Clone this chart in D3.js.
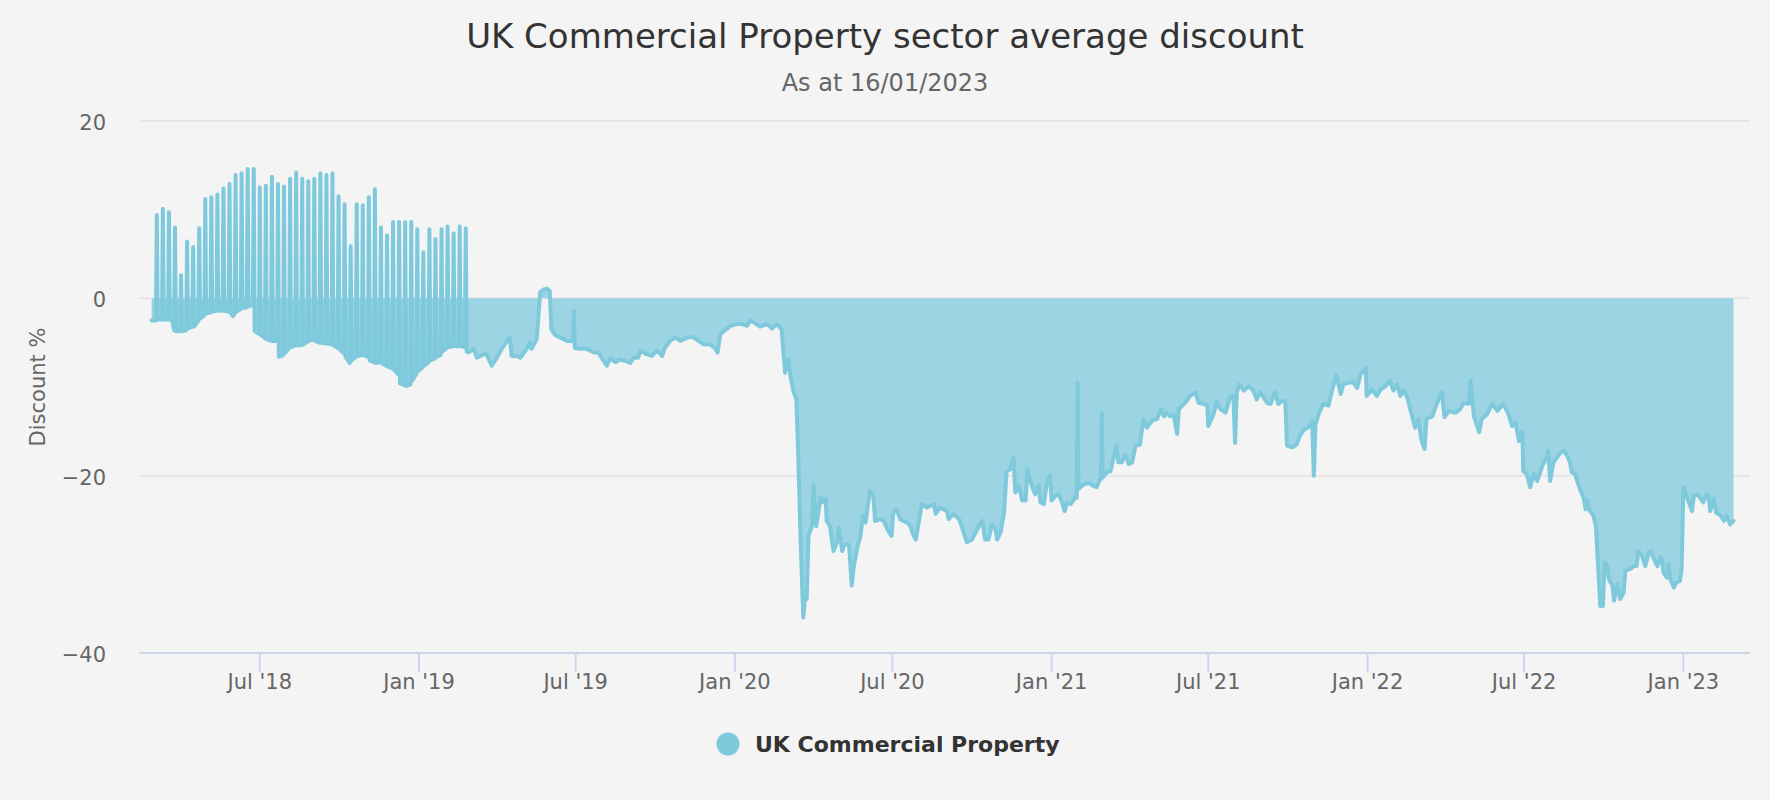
<!DOCTYPE html>
<html>
<head>
<meta charset="utf-8">
<script src="https://cdn.jsdelivr.net/npm/d3@7"></script>
<style>
  html, body { margin: 0; padding: 0; background: #f4f4f4; }
  svg { display: block; }
  text { font-family: "DejaVu Sans", sans-serif; }
</style>
</head>
<body>
<svg id="chart" width="1770" height="800"></svg>
<script>
// ---------------- DATA ----------------
const chartTitle = "UK Commercial Property sector average discount";
const chartSubtitle = "As at 16/01/2023";
const seriesName = "UK Commercial Property";
const yAxisTitle = "Discount %";
const yTicks = [-40, -20, 0, 20];
const xTickDates = ["2018-07-01", "2019-01-01", "2019-07-01", "2020-01-01", "2020-07-01",
                    "2021-01-01", "2021-07-01", "2022-01-01", "2022-07-01", "2023-01-01"];
const xTickLabels = ["Jul '18", "Jan '19", "Jul '19", "Jan '20", "Jul '20",
                     "Jan '21", "Jul '21", "Jan '22", "Jul '22", "Jan '23"];
const xDomain = ["2018-02-11T10:00:00", "2023-03-19T00:00:00"];
const baseDate = "2018-02-26"; // day 0 of the series; points are [day offset, discount %]

// Mar 2018 - Feb 2019: daily discount with weekly (weekend) premium readings
const period2018 = [
[0,-2.5],
[5,-2.5],[6,9.4],[7,-2.4],
[12,-2.4],[13,10.1],[14,-2.4],
[19,-2.4],[20,9.7],[21,-2.3],
[24,-2.6],[26,-3.6],[27,8.0],[28,-3.7],
[33,-3.7],[34,2.6],[35,-3.7],
[40,-3.6],[41,6.4],[42,-3.4],
[47,-3.2],[48,5.8],[49,-3.2],
[54,-2.5],[55,7.9],[56,-2.3],
[61,-1.9],[62,11.2],[63,-1.7],
[68,-1.6],[69,11.4],[70,-1.5],
[75,-1.4],[76,11.7],[77,-1.4],
[82,-1.4],[83,12.4],[84,-1.4],
[89,-1.5],[90,12.9],[91,-1.6],
[94,-2.0],[96,-1.7],[97,13.9],[98,-1.5],
[103,-1.2],[104,14.1],[105,-1.1],
[110,-1.0],[111,14.6],[112,-0.9],
[117,-0.7],[118,14.6],[119,-3.7],
[124,-4.0],[125,12.5],[126,-4.1],
[131,-4.5],[132,12.7],[133,-4.6],
[138,-4.8],[139,13.7],[140,-4.8],
[145,-4.8],[146,12.9],[147,-6.6],
[152,-6.4],[153,12.6],[154,-6.2],
[159,-5.6],[160,13.5],[161,-5.5],
[166,-5.3],[167,14.2],[168,-5.3],
[173,-5.3],[174,13.5],[175,-5.2],
[180,-4.9],[181,13.2],[182,-4.8],
[187,-4.6],[188,13.5],[189,-4.8],
[194,-5.0],[195,14.1],[196,-5.0],
[201,-5.1],[202,13.9],[203,-5.1],
[208,-5.2],[209,14.1],[210,-5.3],
[215,-5.6],[216,11.5],[217,-5.7],
[222,-6.2],[223,10.6],[224,-6.6],
[229,-7.3],[230,5.9],[231,-7.0],
[236,-6.6],[237,10.6],[238,-6.5],
[243,-6.4],[244,10.5],[245,-6.4],
[250,-6.6],[251,11.4],[252,-7.0],
[257,-7.2],[258,12.3],[259,-7.3],
[264,-7.2],[265,8.0],[266,-7.3],
[271,-7.6],[272,7.1],[273,-7.7],
[278,-7.9],[279,8.6],[280,-8.0],
[285,-8.6],[286,8.6],[287,-9.6],
[292,-9.8],[293,8.6],[294,-9.9],
[299,-9.7],[300,8.6],[301,-9.3],
[306,-8.5],[307,7.8],[308,-8.2],
[313,-7.8],[314,5.2],[315,-7.6],
[320,-7.2],[321,7.8],[322,-7.0],
[327,-6.8],[328,6.7],[329,-6.6],
[334,-6.4],[335,7.8],[336,-6.0],
[341,-5.6],[342,8.1],[343,-5.5],
[348,-5.4],[349,7.3],[350,-5.4],
[355,-5.4],[356,8.1],[357,-5.4],
[362,-5.5],[363,7.9],[364,-6.0]
];

// Mar 2019 - Dec 2020
const period2019_20 = [
[366,-6.1],[372,-5.7],[376,-6.7],[384,-6.3],[387,-6.3],[393,-7.6],[399,-6.7],[405,-5.6],
[414,-4.4],[416,-6.5],[422,-6.5],[426,-6.7],[434,-5.6],[437,-5.0],[439,-5.7],[445,-4.6],
[449,0.7],[453,1.0],[457,1.1],[460,0.8],[462,-3.5],[466,-4.1],[472,-4.4],[480,-4.8],
[487,-4.8],[488,-1.4],[489,-5.6],[495,-5.7],[503,-5.7],[511,-6.1],[516,-6.1],[520,-6.7],
[526,-7.6],[530,-6.8],[536,-7.2],[541,-6.9],[549,-7.1],[553,-7.3],[557,-6.7],[562,-6.7],
[565,-5.9],[572,-6.3],[578,-6.5],[584,-5.9],[590,-6.5],[593,-5.6],[599,-4.8],[605,-4.4],
[611,-4.8],[619,-4.4],[626,-4.4],[632,-4.8],[638,-5.2],[645,-5.2],[651,-5.6],[654,-6.1],
[657,-4.1],[661,-3.7],[669,-3.1],[676,-2.9],[682,-2.9],[688,-3.1],[692,-2.5],[697,-2.8],
[703,-3.2],[711,-2.9],[717,-3.4],[723,-2.9],[728,-3.5],[732,-8.4],[736,-6.9],[738,-8.7],
[742,-10.6],[745,-11.4],[747,-17.0],[750,-27.5],[753,-36.0],[755,-33.9],[757,-33.9],[759,-26.8],
[763,-25.7],[765,-21.1],[768,-25.7],[773,-22.5],[775,-23.0],[779,-22.6],[780,-25.1],[784,-25.7],
[786,-27.2],[788,-28.5],[792,-27.5],[794,-25.8],[798,-28.5],[800,-27.9],[804,-27.7],[806,-27.9],
[809,-32.4],[811,-30.5],[815,-28.3],[819,-26.8],[822,-24.5],[825,-25.3],[830,-21.7],[834,-22.3],
[836,-25.1],[842,-24.9],[846,-25.1],[850,-26.0],[855,-26.8],[857,-24.2],[861,-23.8],[865,-24.9],
[873,-25.3],[877,-25.7],[879,-26.4],[883,-27.2],[886,-25.5],[890,-23.2],[896,-23.6],[904,-23.2],
[906,-24.3],[911,-23.6],[919,-24.0],[921,-24.9],[927,-24.3],[933,-24.9],[936,-25.7],[942,-27.5],
[948,-27.2],[950,-26.8],[956,-25.7],[960,-25.1],[963,-27.2],[967,-27.2],[971,-25.5],[975,-26.0],
[977,-27.2],[981,-26.4],[985,-24.2],[988,-19.5],[992,-19.3],[996,-18.0],[998,-21.9],[1002,-21.1],
[1006,-22.8],[1010,-22.8],[1012,-19.3],[1017,-21.1],[1021,-22.1],[1025,-21.1],[1027,-23.0],[1031,-23.2],
[1034,-21.1],[1038,-20.0]
];

// Jan 2021 - Dec 2021
const period2021 = [
[1040,-22.8],[1044,-22.3],[1048,-22.1],[1052,-23.0],[1055,-24.0],[1058,-23.0],[1062,-23.2],[1067,-22.5],
[1069,-22.5],[1070,-9.5],[1071,-21.5],[1077,-21.0],[1083,-20.8],[1087,-21.1],[1092,-21.3],[1096,-20.4],
[1097,-20.4],[1098,-13.0],[1099,-20.2],[1104,-19.6],[1108,-19.5],[1112,-17.8],[1115,-16.6],[1117,-18.5],
[1121,-18.5],[1125,-17.6],[1129,-18.7],[1133,-18.5],[1137,-16.6],[1142,-16.5],[1146,-13.6],[1150,-14.6],
[1156,-13.8],[1162,-13.6],[1166,-12.5],[1170,-13.3],[1173,-12.9],[1177,-13.3],[1181,-13.1],[1185,-15.3],
[1187,-12.5],[1193,-11.9],[1196,-11.6],[1200,-11.0],[1206,-10.6],[1210,-11.8],[1216,-11.9],[1220,-12.1],
[1221,-14.4],[1227,-13.1],[1231,-11.6],[1235,-12.5],[1241,-12.9],[1246,-11.2],[1250,-11.0],[1252,-16.3],
[1254,-10.6],[1257,-9.7],[1262,-10.4],[1268,-9.9],[1273,-10.4],[1277,-11.4],[1281,-10.6],[1289,-11.8],
[1293,-11.9],[1298,-10.6],[1302,-11.9],[1306,-11.6],[1310,-11.6],[1312,-16.6],[1318,-16.8],[1323,-16.5],
[1327,-15.5],[1331,-14.9],[1337,-14.5],[1341,-13.8],[1343,-20.0],[1345,-14.2],[1349,-12.9],[1354,-11.9],
[1360,-12.1],[1364,-10.4],[1369,-8.7],[1372,-9.9],[1374,-10.8],[1377,-9.7],[1383,-9.5],[1389,-9.5],
[1393,-10.1],[1397,-8.6],[1403,-7.8]
];

// Jan 2022 - Feb 2023
const period2022_23 = [
[1404,-11.0],[1410,-10.3],[1416,-11.0],[1420,-10.3],[1426,-9.9],[1431,-9.3],[1435,-10.4],[1439,-9.7],
[1443,-11.0],[1447,-10.4],[1451,-11.2],[1456,-13.1],[1460,-14.6],[1464,-13.6],[1467,-15.9],[1471,-17.0],
[1473,-13.6],[1480,-13.3],[1485,-11.9],[1491,-10.6],[1494,-13.4],[1499,-12.7],[1507,-12.9],[1512,-12.5],
[1516,-11.8],[1522,-11.9],[1524,-9.3],[1528,-13.3],[1534,-15.1],[1537,-13.6],[1543,-13.1],[1549,-11.9],
[1555,-12.7],[1562,-11.9],[1568,-13.1],[1572,-14.4],[1576,-14.0],[1580,-16.1],[1584,-15.0],[1585,-19.5],
[1589,-19.8],[1593,-21.3],[1597,-19.8],[1601,-20.6],[1607,-18.9],[1612,-18.0],[1614,-17.2],[1616,-20.6],
[1620,-18.5],[1628,-17.4],[1632,-17.2],[1636,-17.8],[1639,-18.5],[1641,-19.6],[1645,-19.8],[1649,-21.1],
[1655,-22.6],[1657,-23.8],[1659,-22.8],[1662,-24.0],[1666,-24.5],[1669,-25.7],[1671,-29.4],[1674,-34.7],
[1677,-34.7],[1679,-29.8],[1682,-30.2],[1684,-31.7],[1688,-32.4],[1690,-34.1],[1694,-32.2],[1697,-33.9],
[1701,-33.2],[1703,-30.7],[1709,-30.5],[1713,-30.2],[1716,-30.2],[1718,-28.5],[1722,-29.0],[1726,-30.2],
[1730,-28.7],[1732,-28.5],[1736,-29.4],[1740,-30.2],[1743,-29.2],[1745,-29.4],[1747,-30.9],[1751,-31.5],
[1753,-30.0],[1755,-31.7],[1759,-32.6],[1762,-32.0],[1766,-31.9],[1768,-30.5],[1770,-21.3],[1772,-21.9],
[1775,-22.6],[1780,-24.0],[1782,-22.3],[1786,-22.1],[1790,-22.6],[1793,-23.0],[1797,-22.1],[1799,-22.3],
[1801,-24.0],[1805,-22.6],[1808,-24.2],[1813,-24.5],[1817,-25.1],[1820,-24.5],[1824,-25.5],[1828,-25.1]
];

// ---------------- CHART ----------------
const W = 1770, H = 800;
const plot = { left: 139, right: 1750, top: 121, bottom: 653 };
const seriesColor = "#7fc9dd";

const parse = d3.isoParse;
const base = parse(baseDate);
const data = [...period2018, ...period2019_20, ...period2021, ...period2022_23]
  .map(([day, v]) => ({ date: d3.timeDay.offset(base, day), v }));

const svg = d3.select("#chart");
svg.append("rect").attr("width", W).attr("height", H).attr("fill", "#f4f4f4");

const x = d3.scaleTime().domain(xDomain.map(parse)).range([plot.left, plot.right]);
const y = d3.scaleLinear().domain([-40, 20]).range([plot.bottom, plot.top]);

// gridlines
svg.append("g").selectAll("line").data(yTicks.filter(t => t !== -40)).join("line")
  .attr("x1", plot.left).attr("x2", plot.right)
  .attr("y1", d => y(d)).attr("y2", d => y(d))
  .attr("stroke", "#e6e6e6").attr("stroke-width", 2);

// y-axis labels
svg.append("g").selectAll("text").data(yTicks).join("text")
  .attr("x", 106).attr("y", d => y(d) + 9)
  .attr("text-anchor", "end").attr("fill", "#666").attr("font-size", 21)
  .text(d => d3.format("")(d).replace("-", "\u2212"));

// y-axis title
svg.append("text")
  .attr("transform", `translate(45,${(plot.top + plot.bottom) / 2}) rotate(-90)`)
  .attr("text-anchor", "middle").attr("fill", "#666").attr("font-size", 21)
  .text(yAxisTitle);

// area + line
const area = d3.area().x(d => x(d.date)).y0(y(0)).y1(d => y(d.v));
const line = d3.line().x(d => x(d.date)).y(d => y(d.v));

svg.append("path").datum(data).attr("d", area)
  .attr("fill", seriesColor).attr("fill-opacity", 0.75);
svg.append("path").datum(data).attr("d", line)
  .attr("fill", "none").attr("stroke", seriesColor).attr("stroke-width", 4)
  .attr("stroke-linejoin", "round").attr("stroke-linecap", "round");

// x axis
const xTicks = xTickDates.map(parse);
svg.append("line").attr("x1", plot.left).attr("x2", plot.right)
  .attr("y1", plot.bottom).attr("y2", plot.bottom)
  .attr("stroke", "#ccd6eb").attr("stroke-width", 2);
svg.append("g").selectAll("line").data(xTicks).join("line")
  .attr("x1", d => x(d)).attr("x2", d => x(d))
  .attr("y1", plot.bottom).attr("y2", plot.bottom + 19)
  .attr("stroke", "#ccd6eb").attr("stroke-width", 2);
svg.append("g").selectAll("text").data(xTicks).join("text")
  .attr("x", d => x(d)).attr("y", 689)
  .attr("text-anchor", "middle").attr("fill", "#666").attr("font-size", 21)
  .text((d, i) => xTickLabels[i]);

// title & subtitle
svg.append("text").attr("x", W / 2).attr("y", 48).attr("text-anchor", "middle")
  .attr("fill", "#333").attr("font-size", 34).text(chartTitle);
svg.append("text").attr("x", W / 2).attr("y", 91).attr("text-anchor", "middle")
  .attr("fill", "#666").attr("font-size", 24).text(chartSubtitle);

// legend
const lg = svg.append("g");
lg.append("circle").attr("cx", 728).attr("cy", 744).attr("r", 11.5).attr("fill", seriesColor);
lg.append("text").attr("x", 755).attr("y", 752).attr("fill", "#333")
  .attr("font-size", 22).attr("font-weight", "bold").text(seriesName);
</script>
</body>
</html>
